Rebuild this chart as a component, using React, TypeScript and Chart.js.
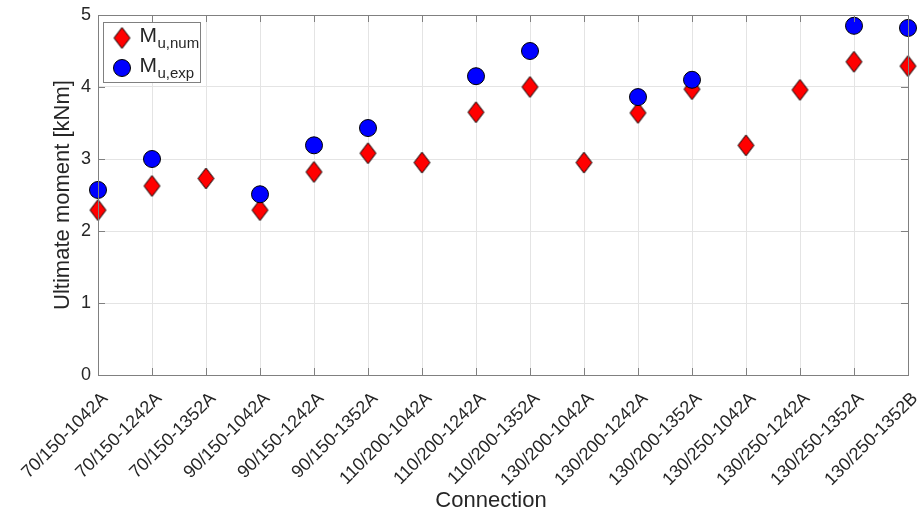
import React, { useEffect, useRef } from "react";
import { Chart, registerables } from "chart.js";

Chart.register(...registerables);

const categories = [
  "70/150-1042A", "70/150-1242A", "70/150-1352A", "90/150-1042A",
  "90/150-1242A", "90/150-1352A", "110/200-1042A", "110/200-1242A",
  "110/200-1352A", "130/200-1042A", "130/200-1242A", "130/200-1352A",
  "130/250-1042A", "130/250-1242A", "130/250-1352A", "130/250-1352B",
];

const numValues = [2.29, 2.625, 2.73, 2.29, 2.82, 3.08, 2.95, 3.65, 4.0, 2.95, 3.64, 3.97, 3.19, 3.96, 4.35, 4.29];
const expValues: (number | null)[] = [2.57, 3.0, null, 2.51, 3.19, 3.43, null, 4.15, 4.5, null, 3.86, 4.1, null, null, 4.85, 4.82];

const yTicks = [0, 1, 2, 3, 4, 5];

const xTitle = "Connection";
const yTitle = "Ultimate moment [kNm]";

const FONT = "'Liberation Sans', Arial, Helvetica, sans-serif";
const TEXT = "#262626";
const AXIS = "#808080";
const GRID = "#e4e4e4";

function makeDiamond(): HTMLCanvasElement {
  const c = document.createElement("canvas");
  c.width = 19;
  c.height = 23;
  const g = c.getContext("2d")!;
  g.beginPath();
  g.moveTo(9.5, 1);
  g.lineTo(17.5, 11.5);
  g.lineTo(9.5, 22);
  g.lineTo(1.5, 11.5);
  g.closePath();
  g.fillStyle = "#ff0000";
  g.fill();
  g.lineWidth = 1;
  g.strokeStyle = "#000000";
  g.stroke();
  return c;
}

export default function App() {
  const ref = useRef<HTMLCanvasElement | null>(null);

  useEffect(() => {
    if (!ref.current) return;
    const diamond = makeDiamond();

    const framePlugin = {
      id: "frame",
      afterDatasetsDraw(chart: any) {
        const { ctx, chartArea: a, scales } = chart;
        ctx.save();
        ctx.strokeStyle = AXIS;
        ctx.lineWidth = 1;
        ctx.strokeRect(Math.round(a.left) + 0.5, Math.round(a.top) + 0.5, Math.round(a.right - a.left), Math.round(a.bottom - a.top));
        const tl = 7;
        ctx.beginPath();
        categories.forEach((_, i) => {
          const x = Math.round(scales.x.getPixelForValue(i)) + 0.5;
          ctx.moveTo(x, a.bottom);
          ctx.lineTo(x, a.bottom - tl);
          ctx.moveTo(x, a.top);
          ctx.lineTo(x, a.top + tl);
        });
        yTicks.forEach((v) => {
          const y = Math.round(scales.y.getPixelForValue(v)) + 0.5;
          ctx.moveTo(a.left, y);
          ctx.lineTo(a.left + tl, y);
          ctx.moveTo(a.right, y);
          ctx.lineTo(a.right - tl, y);
        });
        ctx.stroke();

        // x-axis title (slightly left of centre, as in the source figure)
        ctx.fillStyle = TEXT;
        ctx.font = `22px ${FONT}`;
        ctx.textAlign = "center";
        ctx.textBaseline = "alphabetic";
        ctx.fillText(xTitle, (a.left + a.right) / 2 - 12, chart.height - 8);

        // legend
        const lx = a.left + 5.5;
        const ly = a.top + 7.5;
        const lw = 97;
        const lh = 60;
        ctx.fillStyle = "#ffffff";
        ctx.fillRect(lx, ly, lw, lh);
        ctx.strokeStyle = AXIS;
        ctx.strokeRect(lx, ly, lw, lh);
        const rows = [
          { sub: "u,num", kind: "d" },
          { sub: "u,exp", kind: "c" },
        ];
        rows.forEach((r, i) => {
          const cy = ly + 15.5 + i * 30;
          const mx = lx + 18.5;
          if (r.kind === "d") {
            ctx.drawImage(diamond, mx - diamond.width / 2, cy - diamond.height / 2);
          } else {
            ctx.beginPath();
            ctx.arc(mx, cy, 8.5, 0, Math.PI * 2);
            ctx.fillStyle = "#0000ff";
            ctx.fill();
            ctx.strokeStyle = "#000000";
            ctx.stroke();
          }
          ctx.fillStyle = TEXT;
          ctx.textBaseline = "alphabetic";
          ctx.textAlign = "left";
          ctx.font = `21px ${FONT}`;
          const tx = lx + 36;
          ctx.fillText("M", tx, cy + 4);
          const mw = ctx.measureText("M").width;
          ctx.font = `15px ${FONT}`;
          ctx.fillText(r.sub, tx + mw + 0.5, cy + 10);
        });
        ctx.restore();
      },
    };

    const chart = new Chart(ref.current, {
      type: "line",
      data: {
        labels: categories,
        datasets: [
          {
            label: "M_u,num",
            data: numValues,
            showLine: false,
            pointStyle: diamond as any,
            pointRadius: 10,
            order: 1,
          },
          {
            label: "M_u,exp",
            data: expValues,
            showLine: false,
            pointStyle: "circle",
            pointRadius: 8.5,
            pointBackgroundColor: "#0000ff",
            pointBorderColor: "#000000",
            pointBorderWidth: 1,
            order: 0,
          },
        ],
      },
      options: {
        responsive: false,
        animation: false,
        events: [],
        layout: { padding: { top: 15, right: 12, left: 0, bottom: 0 } },
        plugins: {
          legend: { display: false },
          tooltip: { enabled: false },
        },
        scales: {
          x: {
            type: "category",
            offset: false,
            grid: { color: GRID, drawTicks: false, offset: false },
            border: { display: false },
            ticks: {
              autoSkip: false,
              maxRotation: 45,
              minRotation: 45,
              padding: 13,
              labelOffset: 7,
              color: TEXT,
              font: { family: FONT, size: 18 },
            },
            title: { display: false },
            afterFit(scale: any) {
              scale.height = 140;
              scale.paddingLeft = 0;
              scale.paddingRight = 0;
            },
          },
          y: {
            min: 0,
            max: 5,
            grid: { color: GRID, drawTicks: false },
            border: { display: false },
            afterBuildTicks(scale: any) {
              scale.ticks = yTicks.map((v) => ({ value: v }));
            },
            ticks: {
              padding: 7,
              color: TEXT,
              font: { family: FONT, size: 18 },
            },
            title: {
              display: true,
              text: yTitle,
              color: TEXT,
              font: { family: FONT, size: 22, lineHeight: 1.2 },
              padding: { top: 50, bottom: 0 },
            },
            afterFit(scale: any) {
              scale.width = 98;
              scale.paddingTop = 0;
              scale.paddingBottom = 0;
            },
          },
        },
      },
      plugins: [framePlugin],
    });
    return () => chart.destroy();
  }, []);

  return (
    <div style={{ position: "absolute", left: 0, top: 0, width: 920, height: 515, background: "#ffffff" }}>
      <canvas ref={ref} width={920} height={515} style={{ display: "block" }} />
    </div>
  );
}
